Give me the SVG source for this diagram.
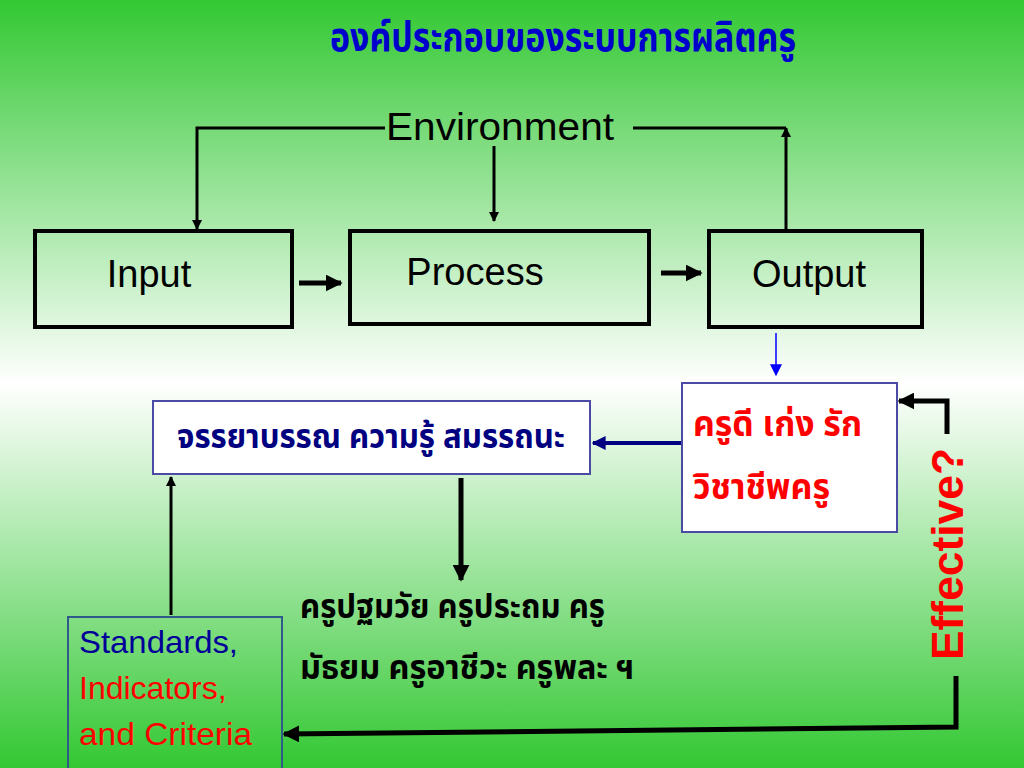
<svg xmlns="http://www.w3.org/2000/svg" width="1024" height="768" viewBox="0 0 1024 768">
<defs>
<linearGradient id="bg" x1="0" y1="0" x2="0" y2="1">
<stop offset="0" stop-color="#33c833"/>
<stop offset="0.5" stop-color="#ffffff"/>
<stop offset="1" stop-color="#33c833"/>
</linearGradient>
<marker id="ahs" viewBox="0 0 10 10" refX="9" refY="5" markerWidth="3.4" markerHeight="3.4" orient="auto" markerUnits="strokeWidth">
<path d="M0,0 L10,5 L0,10 z" fill="#000"/>
</marker>
<marker id="ahn" viewBox="0 0 10 10" refX="9" refY="5" markerWidth="3.5" markerHeight="3.5" orient="auto" markerUnits="strokeWidth">
<path d="M0,0 L10,5 L0,10 z" fill="#000080"/>
</marker>
<marker id="ahb" viewBox="0 0 10 10" refX="9" refY="5" markerWidth="8" markerHeight="8" orient="auto" markerUnits="strokeWidth">
<path d="M0,0 L10,5 L0,10 z" fill="#0000ff"/>
</marker>
</defs>
<style>
.en{font-family:"Liberation Sans",Arial,sans-serif}
.th{font-family:"Noto Sans Thai","Noto Sans","DejaVu Sans",sans-serif;font-weight:bold}
.box{fill:none;stroke:#000;stroke-width:4}
.bbox{fill:#ffffff;stroke:#4b4ba6;stroke-width:2}
.ln{fill:none;stroke:#000;stroke-width:3}
.thk{fill:none;stroke:#000;stroke-width:5}
</style>
<rect x="0" y="0" width="1024" height="768" fill="url(#bg)"/>

<text class="th" x="563" y="51" font-size="40" fill="#0000cc" text-anchor="middle" textLength="466" lengthAdjust="spacingAndGlyphs">องค์ประกอบของระบบการผลิตครู</text>

<g id="connectors">
<polyline class="ln" points="385,128 197,128 197,229" marker-end="url(#ahs)"/>
<polyline class="ln" points="633,128 786,128"/>
<line class="ln" x1="786" y1="230" x2="786" y2="128" marker-end="url(#ahs)"/>
<line class="ln" x1="494" y1="146" x2="494" y2="221" marker-end="url(#ahs)"/>
<line class="thk" x1="299" y1="283" x2="341" y2="283" marker-end="url(#ahs)"/>
<line class="thk" x1="661" y1="273" x2="701" y2="273" marker-end="url(#ahs)"/>
<line x1="776" y1="333" x2="776" y2="375" stroke="#0000ff" stroke-width="1.5" marker-end="url(#ahb)"/>
<line x1="682" y1="443" x2="593" y2="443" stroke="#000080" stroke-width="4" marker-end="url(#ahn)"/>
<line class="thk" x1="461" y1="478" x2="461" y2="580" marker-end="url(#ahs)"/>
<line class="ln" x1="171" y1="615" x2="171" y2="477" marker-end="url(#ahs)"/>
<polyline class="thk" points="947,434 947,401 899,401" marker-end="url(#ahs)"/>
<polyline class="thk" points="956,676 956,727 284,734" marker-end="url(#ahs)"/>
</g>

<g id="environment">
<text class="en" x="500" y="140" font-size="39" fill="#000" text-anchor="middle" textLength="228" lengthAdjust="spacingAndGlyphs">Environment</text>
</g>

<g id="input">
<rect class="box" x="35" y="231" width="257" height="96"/>
<text class="en" x="149" y="287" font-size="38" fill="#000" text-anchor="middle">Input</text>
</g>
<g id="process">
<rect class="box" x="350" y="231" width="299" height="93"/>
<text class="en" x="475" y="285" font-size="38" fill="#000" text-anchor="middle">Process</text>
</g>
<g id="output">
<rect class="box" x="709" y="231" width="213" height="96"/>
<text class="en" x="809" y="287" font-size="38" fill="#000" text-anchor="middle">Output</text>
</g>

<g id="ethics">
<rect class="bbox" x="153" y="401" width="437" height="73"/>
<text class="th" x="371" y="448" font-size="34" fill="#000080" text-anchor="middle" textLength="388" lengthAdjust="spacingAndGlyphs">จรรยาบรรณ ความรู้ สมรรถนะ</text>
</g>

<g id="goodteacher">
<rect class="bbox" x="682" y="383" width="215" height="149"/>
<text class="th" x="693" y="436" font-size="36" fill="#ff0000" textLength="169" lengthAdjust="spacingAndGlyphs">ครูดี เก่ง รัก</text>
<text class="th" x="693" y="499" font-size="36" fill="#ff0000" textLength="137" lengthAdjust="spacingAndGlyphs">วิชาชีพครู</text>
</g>

<g id="types">
<text class="th" x="300" y="618" font-size="33" fill="#000" textLength="305" lengthAdjust="spacingAndGlyphs">ครูปฐมวัย ครูประถม ครู</text>
<text class="th" x="300" y="679" font-size="33" fill="#000" textLength="334" lengthAdjust="spacingAndGlyphs">มัธยม ครูอาชีวะ ครูพละ ฯ</text>
</g>

<g id="standards">
<rect x="68" y="617" width="214" height="160" fill="none" stroke="#2f5a8a" stroke-width="2"/>
<text class="en" x="79" y="653" font-size="32" fill="#000099" textLength="159" lengthAdjust="spacingAndGlyphs">Standards,</text>
<text class="en" x="79" y="699" font-size="32" fill="#ff0000">Indicators,</text>
<text class="en" x="79" y="745" font-size="32" fill="#ff0000" textLength="173" lengthAdjust="spacingAndGlyphs">and Criteria</text>
</g>

<g id="effective">
<text class="en" transform="translate(963,554) rotate(-90)" x="0" y="0" font-size="44" font-weight="bold" fill="#ff0000" text-anchor="middle" textLength="212" lengthAdjust="spacingAndGlyphs">Effective?</text>
</g>
</svg>
